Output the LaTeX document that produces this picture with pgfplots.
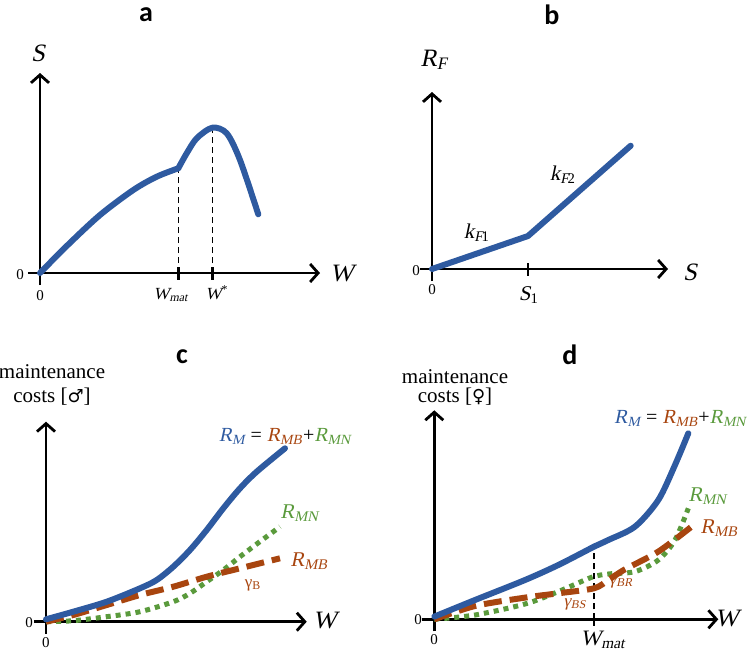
\documentclass[border=0pt]{standalone}
\usepackage{fontspec}
\setmainfont{Liberation Serif}[ItalicFont={Liberation Serif}, ItalicFeatures={FakeSlant=0.21}]
\newfontfamily\serifrm{Liberation Serif}[ItalicFont={Liberation Serif}, ItalicFeatures={FakeSlant=0.21}]
\newfontfamily\ttlfont{Carlito}
\newfontfamily\dejavu{DejaVu Sans}
\usepackage{pgfplots}
\pgfplotsset{compat=1.18}
\usetikzlibrary{arrows.meta}
\definecolor{cblue}{RGB}{46,90,160}
\definecolor{cbrown}{RGB}{168,69,15}
\definecolor{cgreen}{RGB}{90,154,60}
\newcommand{\iv}[1]{\textit{#1}}
\newcommand{\sbs}[2]{\textit{#1}\textsubscript{\textit{#2}}}
\pgfplotsset{schem/.style={
  x=0.5pt, y=0.5pt, anchor=origin, axis lines=middle, clip=false,
  axis line style={line width=1.4pt, black},
  every inner x axis line/.append style={-{Straight Barb[length=4pt,width=9pt]}},
  every inner y axis line/.append style={-{Straight Barb[length=4pt,width=9pt]}},
  xtick=\empty, ytick=\empty, xticklabels={}, yticklabels={},
  tick align=center, major tick length=6.5pt,
  tick style={line width=1.2pt, black},
  xmin=-12, ymin=-12,
}}
\tikzset{
  bl/.style={cblue, line width=3pt, line cap=round, line join=round},
  br/.style={cbrown, line width=3pt, dash pattern=on 9pt off 4pt},
  gr/.style={cgreen, line width=2.5pt, dash pattern=on 2.5pt off 2.5pt},
  vd/.style={black, line width=0.6pt, dash pattern=on 3pt off 2pt},
}
\begin{document}
\serifrm
\begin{tikzpicture}
\path[use as bounding box] (0pt,0pt) rectangle (375pt,-327pt);

% ---- a ----
\begin{axis}[schem, at={(20pt,-136.5pt)}, xmax=280, ymax=200, xtick={138.3,172.3}]
\addplot[vd] coordinates {(138.3,0) (138.3,104.7)};
\addplot[vd] coordinates {(172.3,0) (172.3,145.3)};
\addplot[bl, smooth] coordinates {(0,0) (26.7,27) (60,58) (93.3,83) (116.7,96.3) (138.3,104.7)};
\addplot[bl, smooth] coordinates {(138.3,104.7) (146.7,119.7) (156.7,134.7) (172.3,145.3) (186.7,139.7) (200,113) (218.3,58.7)};
\end{axis}

% ---- b ----
\begin{axis}[schem, at={(216pt,-134.5pt)}, xmax=236, ymax=177, xtick={96}]
\addplot[bl] coordinates {(0,0) (96,33) (198.7,123.3)};
\end{axis}

% ---- c ----
\begin{axis}[schem, at={(23pt,-310.85pt)}, xmax=260.7, ymax=200]
\addplot[gr, smooth] coordinates {(0,0) (27.3,1) (60.7,5) (94,10) (127.3,20) (144,28.4) (160.7,40) (177.3,51.7) (194,65) (210.7,77.7) (234,95)};
\addplot[br, smooth] coordinates {(0,0) (27.3,6.7) (60.7,16.7) (94,26.7) (127.3,35) (160.7,45) (194,53.4) (234,63.4)};
\addplot[bl, smooth] coordinates {(0,2.4) (27.3,10) (60.7,20) (94,33.4) (110.7,41.7) (127.3,55) (144,71.7) (160.7,91.7) (177.3,113.4) (194,133.4) (210.7,150) (239,173.4)};
\end{axis}

% ---- d ----
\begin{axis}[schem, at={(217.15pt,-309.65pt)}, xmax=284, ymax=209, xtick={159.7}]
\addplot[vd] coordinates {(159.7,0) (159.7,72.7)};
\addplot[gr, smooth] coordinates {(0,0) (40.7,4.3) (90.7,15.3) (124,27.7) (157.3,42) (174,45.3) (200.7,47.7) (224,59.3) (240.7,79.3) (254,111)};
\addplot[br, smooth] coordinates {(0,0) (40.7,13.3) (90.7,21.7) (124,26) (159.7,31) (174,39.3) (190.7,50) (224,67.7) (257.3,92.7)};
\addplot[bl, smooth] coordinates {(0,2.7) (40.7,19.3) (90.7,39.3) (124,54.3) (159.7,72.7)};
\addplot[bl, smooth] coordinates {(159.7,72.7) (174,79.3) (200.7,92.7) (224,119.3) (240.7,154.3) (254,186)};
\end{axis}

% ---- labels (pixel coordinates) ----
\begin{scope}[x=0.5pt, y=-0.5pt]
\tikzset{ttl/.style={font=\ttlfont\bfseries\fontsize{14}{16}\selectfont},
  big/.style={font=\serifrm\fontsize{12.5}{14}\selectfont},
  mid/.style={font=\serifrm\fontsize{10.5}{12}\selectfont},
  eq/.style={font=\serifrm\fontsize{10}{12}\selectfont, inner sep=0pt},
  sm/.style={font=\serifrm\fontsize{7.5}{9}\selectfont},
  gm/.style={font=\serifrm\fontsize{8.5}{10}\selectfont, text=cbrown}}
% a
\node[ttl] at (146,15) {a};
\node[big] at (38,53) {\iv{S}};
\node[big] at (342,273) {\iv{W}};
\node[sm] at (20,275) {0};
\node[sm] at (40,296) {0};
\node[font=\serifrm\fontsize{8.5}{10}\selectfont] at (171,295) {\sbs{W}{mat}};
\node[font=\serifrm\fontsize{8.5}{10}\selectfont] at (217,293) {\iv{W}\textsuperscript{*}};
% b
\node[ttl] at (552,15) {b};
\node[big] at (434,60) {\sbs{R}{F}};
\node[big] at (690,272) {\iv{S}};
\node[sm] at (416,271) {0};
\node[sm] at (432,290) {0};
\node[font=\serifrm\fontsize{10.5}{12}\selectfont] at (529,295) {\iv{S}\textsubscript{1}};
\node[mid] at (477,233) {\sbs{k}{F}\kern-1pt\textsubscript{1}};
\node[mid] at (563,175) {\sbs{k}{F}\kern-1pt\textsubscript{2}};
% c
\node[ttl] at (182,357) {c};
\node[mid] at (52,372) {maintenance};
\node[mid] at (52,397) {costs [{\dejavu\fontsize{9}{10}\selectfont ♂}]};
\node[eq, anchor=base] at (285,441) {\textcolor{cblue}{\sbs{R}{M}} = \textcolor{cbrown}{\sbs{R}{MB}}+\textcolor{cgreen}{\sbs{R}{MN}}};
\node[mid, text=cgreen, anchor=base west, inner sep=0pt] at (280,518) {\sbs{R}{MN}};
\node[mid, text=cbrown, anchor=base west, inner sep=0pt] at (290,566) {\sbs{R}{MB}};
\node[gm] at (253,585) {γ\textsubscript{B}};
\node[big] at (325,620) {\iv{W}};
\node[sm] at (29,623) {0};
\node[sm] at (46,643) {0};
% d
\node[ttl] at (570,355) {d};
\node[mid] at (455,377) {maintenance};
\node[mid] at (455,397) {costs [{\dejavu\fontsize{9}{10}\selectfont ♀}]};
\node[eq, anchor=base east] at (747,423) {\textcolor{cblue}{\sbs{R}{M}} = \textcolor{cbrown}{\sbs{R}{MB}}+\textcolor{cgreen}{\sbs{R}{MN}}};
\node[mid, text=cgreen, anchor=base west, inner sep=0pt] at (688,501) {\sbs{R}{MN}};
\node[mid, text=cbrown, anchor=base west, inner sep=0pt] at (700,533) {\sbs{R}{MB}};
\node[gm] at (575,604) {\iv{γ}\textsubscript{\iv{BS}}};
\node[gm] at (621,582) {\iv{γ}\textsubscript{\iv{BR}}};
\node[big] at (727,618) {\iv{W}};
\node[sm] at (418,620) {0};
\node[sm] at (434,640) {0};
\node[font=\serifrm\fontsize{11}{12}\selectfont, anchor=base] at (603,645) {\sbs{W}{mat}};
\end{scope}
\end{tikzpicture}
\end{document}
